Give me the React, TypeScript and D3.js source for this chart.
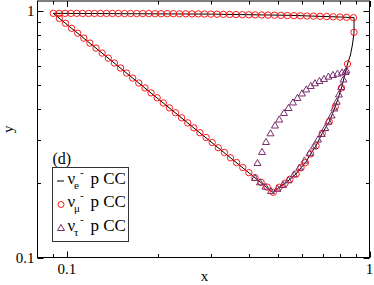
import React from 'react';
import * as d3 from 'd3';

// nu_e p CC (solid line)
const eLineX = [0.0902, 0.3, 0.546, 0.8, 0.889, 0.889, 0.878, 0.865, 0.846, 0.808, 0.771, 0.736, 0.698, 0.666, 0.639, 0.614, 0.594, 0.572, 0.546, 0.526, 0.503, 0.481, 0.0902];
const eLineY = [0.980, 0.973, 0.962, 0.947, 0.941, 0.821, 0.729, 0.664, 0.6105, 0.488, 0.4095, 0.3558, 0.3193, 0.2843, 0.2632, 0.2426, 0.2315, 0.2183, 0.2077, 0.2001, 0.1928, 0.1833, 0.980];

// nu_mu p CC (circles): top row, right branch, diagonal
const muTopX = [0.0902, 0.0943, 0.0986, 0.1031, 0.1078, 0.1128, 0.1180, 0.1234, 0.1292, 0.1352, 0.1415, 0.1481, 0.1551, 0.1624, 0.1701, 0.1781, 0.1866, 0.1955, 0.2048, 0.2146, 0.2249, 0.2358, 0.2472, 0.2591, 0.2718, 0.2850, 0.2990, 0.3136, 0.3290, 0.3452, 0.3623, 0.3802, 0.3992, 0.4191, 0.4401, 0.4621, 0.4853, 0.5098, 0.5354, 0.5626, 0.5912, 0.6213, 0.6530, 0.6865, 0.7217, 0.7589, 0.7984, 0.8396, 0.8850];
const muTopY = [0.980, 0.980, 0.980, 0.980, 0.980, 0.979, 0.979, 0.979, 0.979, 0.979, 0.979, 0.979, 0.978, 0.978, 0.978, 0.978, 0.978, 0.977, 0.977, 0.977, 0.977, 0.976, 0.976, 0.975, 0.975, 0.974, 0.973, 0.972, 0.971, 0.970, 0.969, 0.968, 0.967, 0.966, 0.965, 0.964, 0.963, 0.962, 0.960, 0.959, 0.958, 0.956, 0.955, 0.953, 0.951, 0.949, 0.947, 0.944, 0.941];
const muRightX = [0.889, 0.846, 0.808, 0.771, 0.736, 0.698, 0.666, 0.639, 0.614, 0.594, 0.572, 0.546, 0.526, 0.503];
const muRightY = [0.821, 0.6105, 0.488, 0.4095, 0.3558, 0.3193, 0.2843, 0.2632, 0.2426, 0.2315, 0.2183, 0.2077, 0.2001, 0.1928];
const muDiagX = [0.0945, 0.0990, 0.1037, 0.1086, 0.1138, 0.1192, 0.1249, 0.1308, 0.1371, 0.1436, 0.1504, 0.1576, 0.1651, 0.1729, 0.1812, 0.1898, 0.1988, 0.2083, 0.2182, 0.2286, 0.2395, 0.2509, 0.2628, 0.2753, 0.2884, 0.3022, 0.3165, 0.3316, 0.3474, 0.3639, 0.3813, 0.3994, 0.4184, 0.4383, 0.4592, 0.4810];
const muDiagY = [0.935, 0.893, 0.852, 0.814, 0.777, 0.742, 0.708, 0.676, 0.645, 0.616, 0.588, 0.561, 0.535, 0.511, 0.488, 0.466, 0.445, 0.424, 0.405, 0.387, 0.369, 0.352, 0.336, 0.321, 0.307, 0.293, 0.279, 0.267, 0.254, 0.243, 0.232, 0.221, 0.211, 0.202, 0.193, 0.184];

// nu_tau p CC (triangles): upper arc and lower branch
const tauArcX = [0.4265, 0.4414, 0.4550, 0.4708, 0.4872, 0.5033, 0.5216, 0.5398, 0.5587, 0.5781, 0.5982, 0.6181, 0.6393, 0.6605, 0.6834, 0.7072, 0.7317, 0.7572, 0.7838, 0.8110, 0.8393];
const tauArcY = [0.2419, 0.2682, 0.2944, 0.3193, 0.3434, 0.3633, 0.3860, 0.4046, 0.4260, 0.4443, 0.4634, 0.4811, 0.4971, 0.5098, 0.5208, 0.5307, 0.5423, 0.5508, 0.5575, 0.5638, 0.5744];
const tauLowX = [0.4184, 0.4347, 0.4532, 0.4727, 0.4966, 0.5176, 0.5398, 0.5630, 0.5869, 0.6098, 0.6334, 0.6554, 0.6758, 0.6950, 0.7143, 0.7317, 0.7499, 0.7649, 0.7797, 0.7927, 0.8067, 0.8204, 0.8330];
const tauLowY = [0.2105, 0.2020, 0.1940, 0.1860, 0.1900, 0.1970, 0.2058, 0.2173, 0.2319, 0.2476, 0.2650, 0.2827, 0.3013, 0.3172, 0.3356, 0.3566, 0.3772, 0.4027, 0.4291, 0.4591, 0.4924, 0.5282, 0.5664];

const xMajor = [0.1, 1];
const xMinor = [0.09, 0.2, 0.3, 0.4, 0.5, 0.6, 0.7, 0.8, 0.9];
const yMajor = [0.1, 1];
const yMinor = [0.2, 0.3, 0.4, 0.5, 0.6, 0.7, 0.8, 0.9];
const tickLabels = ['0.1', '1'];

const W = 374;
const H = 285;
const L = 37.5, R = 369.5, T = 1, B = 257.5;
const serif = '"Liberation Serif", "DejaVu Serif", serif';
const RED = '#ff0000';
const TAU = '#7a2c6c';

const tri = 'M0,-3.6L3.5,2.5L-3.5,2.5Z';

const App = () => {
  const x = d3.scaleLog().domain([0.08, 1]).range([L, R]);
  const y = d3.scaleLog().domain([0.1, 1.1]).range([B, T]);

  const line = d3.line<number>()
    .x((_, i) => x(eLineX[i]))
    .y((_, i) => y(eLineY[i]));

  const circles = [
    ...muTopX.map((v, i) => [v, muTopY[i]]),
    ...muRightX.map((v, i) => [v, muRightY[i]]),
    ...muDiagX.map((v, i) => [v, muDiagY[i]]),
  ];
  const triangles = [
    ...tauArcX.map((v, i) => [v, tauArcY[i]]),
    ...tauLowX.map((v, i) => [v, tauLowY[i]]),
  ];

  const major = 6, minor = 3.5;

  return (
    <svg width={W} height={H} style={{ position: 'absolute', left: 0, top: 0, background: '#fff' }}
      fontFamily={serif}>
      {/* ticks, mirrored on all sides */}
      <g stroke="#000" strokeWidth={1}>
        {xMajor.concat(xMinor).map((v, i) => {
          const len = xMajor.includes(v) ? major : minor;
          const px = Math.round(x(v)) + 0.5;
          return (
            <g key={'xt' + i}>
              <line x1={px} x2={px} y1={B} y2={B - len} />
              <line x1={px} x2={px} y1={T} y2={T + len} />
            </g>
          );
        })}
        {yMajor.concat(yMinor).map((v, i) => {
          const len = yMajor.includes(v) ? major : minor;
          const py = Math.round(y(v)) + 0.5;
          return (
            <g key={'yt' + i}>
              <line x1={L} x2={L + len} y1={py} y2={py} />
              <line x1={R} x2={R - len} y1={py} y2={py} />
            </g>
          );
        })}
      </g>

      {/* series */}
      <path d={line(eLineX) || ''} fill="none" stroke="#000" strokeWidth={1} />
      {circles.map((d, i) => (
        <circle key={'c' + i} cx={x(d[0])} cy={y(d[1])} r={3.2} fill="none" stroke={RED} strokeWidth={0.9} />
      ))}
      {triangles.map((d, i) => (
        <path key={'t' + i} d={tri} transform={`translate(${x(d[0])},${y(d[1])})`} fill="none" stroke={TAU} strokeWidth={1} />
      ))}

      {/* frame */}
      <rect x={L} y={T} width={R - L} height={B - T} fill="none" stroke="#000" strokeWidth={1} />

      {/* tick labels */}
      <g fontSize={15} fill="#000">
        {xMajor.map((v, i) => (
          <text key={'xl' + i} x={x(v)} y={B + 16} textAnchor="middle">{tickLabels[i]}</text>
        ))}
        {yMajor.map((v, i) => (
          <text key={'yl' + i} x={L - 3} y={y(v) + 5} textAnchor="end">{tickLabels[i]}</text>
        ))}
        <text x={(L + R) / 2 + 1} y={281} textAnchor="middle">x</text>
        <text transform={`translate(13,${(T + B) / 2})rotate(-90)`} textAnchor="middle">y</text>
      </g>

      {/* legend */}
      <g fontSize={17} fill="#000">
        <text x={52.5} y={164} fontSize={16}>(d)</text>
        <rect x={52.5} y={167.5} width={76} height={74} fill="none" stroke="#333" strokeWidth={1} />
        {[
          { sub: 'e', by: 184 },
          { sub: 'μ', by: 207 },
          { sub: 'τ', by: 230.5 },
        ].map((r, i) => (
          <g key={'lg' + i}>
            {i === 0 && <line x1={57} x2={64} y1={r.by - 3} y2={r.by - 3} stroke="#000" strokeWidth={1} />}
            {i === 1 && <circle cx={61} cy={r.by - 2.5} r={3} fill="none" stroke={RED} strokeWidth={0.9} />}
            {i === 2 && <path d={tri} transform={`translate(61,${r.by - 2.5})`} fill="none" stroke={TAU} strokeWidth={1} />}
            <text x={67.5} y={r.by}>ν</text>
            <text x={74} y={r.by + 5} fontSize={11}>{r.sub}</text>
            <text x={80} y={r.by - 8} fontSize={11}>-</text>
            <text x={90.5} y={r.by}>p CC</text>
          </g>
        ))}
      </g>
    </svg>
  );
};

export default App;
